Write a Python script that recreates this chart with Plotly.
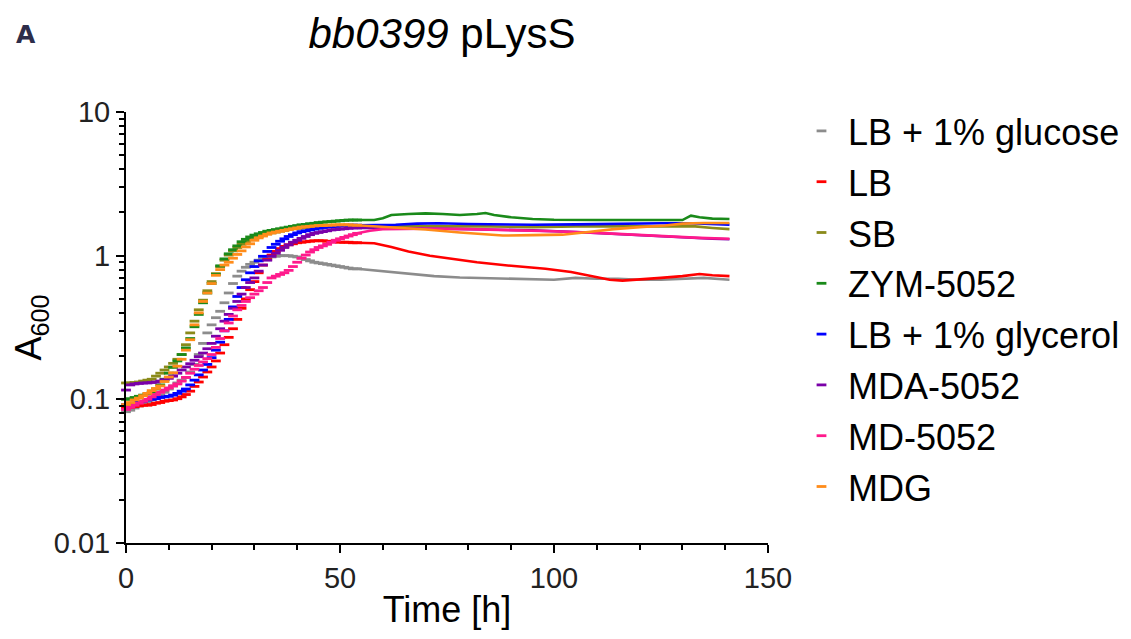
import plotly.graph_objects as go

# ---------------- data ----------------
series_names = ["LB + 1% glucose", "LB", "SB", "ZYM-5052", "LB + 1% glycerol",
                "MDA-5052", "MD-5052", "MDG"]
colors = ["#8c8c8c", "#ff0000", "#8a8a1a", "#1a8a1a", "#0000ff",
          "#7a00a8", "#ff1a8c", "#ff8c1a"]

# dense measurement phase, one reading per hour (0 ... 54 h)
t_dense = list(range(0, 55))

glucose_dense = [0.082, 0.084, 0.087, 0.090, 0.093, 0.096, 0.099, 0.103, 0.107, 0.112,
                 0.118, 0.124, 0.130, 0.136, 0.142, 0.155, 0.175, 0.205, 0.245, 0.290,
                 0.330, 0.370, 0.410, 0.470, 0.550, 0.640, 0.720, 0.780, 0.830, 0.870,
                 0.900, 0.930, 0.950, 0.970, 0.980, 0.990, 1.000, 1.000, 1.000, 0.990,
                 0.980, 0.960, 0.940, 0.920, 0.900, 0.890, 0.880, 0.870, 0.860, 0.850,
                 0.840, 0.830, 0.820, 0.810, 0.810]
lb_dense = [0.087, 0.088, 0.089, 0.090, 0.091, 0.091, 0.092, 0.094, 0.095, 0.097,
            0.098, 0.099, 0.101, 0.104, 0.108, 0.114, 0.123, 0.132, 0.143, 0.155,
            0.168, 0.185, 0.210, 0.240, 0.270, 0.310, 0.360, 0.430, 0.500, 0.580,
            0.660, 0.760, 0.860, 0.940, 1.010, 1.070, 1.120, 1.160, 1.190, 1.210,
            1.230, 1.240, 1.250, 1.260, 1.270, 1.270, 1.270, 1.260, 1.250, 1.250,
            1.240, 1.240, 1.240, 1.230, 1.230]
sb_dense = [0.130, 0.130, 0.131, 0.132, 0.134, 0.136, 0.138, 0.145, 0.152, 0.160,
            0.168, 0.178, 0.190, 0.205, 0.240, 0.290, 0.350, 0.420, 0.490, 0.570,
            0.660, 0.750, 0.840, 0.930, 1.010, 1.080, 1.140, 1.200, 1.250, 1.290,
            1.330, 1.360, 1.390, 1.420, 1.440, 1.460, 1.480, 1.500, 1.520, 1.540,
            1.550, 1.560, 1.570, 1.580, 1.590, 1.600, 1.600, 1.610, 1.610, 1.610,
            1.620, 1.620, 1.620, 1.620, 1.620]
zym_dense = [0.100, 0.101, 0.103, 0.105, 0.107, 0.109, 0.112, 0.118, 0.126, 0.138,
             0.152, 0.167, 0.185, 0.205, 0.228, 0.265, 0.320, 0.390, 0.470, 0.550,
             0.640, 0.740, 0.850, 0.950, 1.030, 1.100, 1.170, 1.250, 1.300, 1.350,
             1.390, 1.420, 1.450, 1.480, 1.500, 1.520, 1.540, 1.560, 1.580, 1.600,
             1.620, 1.640, 1.650, 1.670, 1.680, 1.700, 1.710, 1.720, 1.730, 1.740,
             1.750, 1.760, 1.770, 1.770, 1.770]
glycerol_dense = [0.092, 0.093, 0.094, 0.096, 0.097, 0.099, 0.100, 0.101, 0.103, 0.104,
                  0.105, 0.107, 0.110, 0.114, 0.118, 0.126, 0.136, 0.148, 0.160, 0.175,
                  0.195, 0.220, 0.250, 0.300, 0.360, 0.440, 0.520, 0.600, 0.680, 0.760,
                  0.840, 0.920, 0.990, 1.070, 1.140, 1.200, 1.260, 1.310, 1.360, 1.400,
                  1.440, 1.470, 1.490, 1.510, 1.530, 1.550, 1.570, 1.580, 1.590, 1.600,
                  1.610, 1.620, 1.630, 1.630, 1.630]
mda_dense = [0.116, 0.126, 0.128, 0.129, 0.130, 0.130, 0.131, 0.132, 0.134, 0.137,
             0.140, 0.145, 0.152, 0.160, 0.168, 0.177, 0.187, 0.198, 0.210, 0.225,
             0.245, 0.275, 0.310, 0.350, 0.390, 0.430, 0.480, 0.540, 0.600, 0.650,
             0.700, 0.780, 0.860, 0.930, 0.990, 1.040, 1.090, 1.140, 1.190, 1.240,
             1.280, 1.320, 1.360, 1.400, 1.430, 1.450, 1.470, 1.490, 1.510, 1.520,
             1.530, 1.540, 1.550, 1.560, 1.560]
md_dense = [0.085, 0.088, 0.091, 0.094, 0.097, 0.100, 0.104, 0.108, 0.112, 0.116,
            0.120, 0.124, 0.128, 0.134, 0.142, 0.152, 0.162, 0.172, 0.182, 0.192,
            0.205, 0.230, 0.265, 0.300, 0.340, 0.380, 0.420, 0.450, 0.480, 0.510,
            0.540, 0.570, 0.600, 0.650, 0.700, 0.720, 0.740, 0.760, 0.790, 0.840,
            0.900, 0.960, 1.010, 1.060, 1.100, 1.140, 1.170, 1.200, 1.240, 1.280,
            1.310, 1.340, 1.370, 1.400, 1.430]
mdg_dense = [0.092, 0.095, 0.099, 0.102, 0.106, 0.110, 0.115, 0.119, 0.124, 0.133,
             0.143, 0.153, 0.170, 0.190, 0.220, 0.260, 0.330, 0.400, 0.480, 0.550,
             0.640, 0.730, 0.800, 0.860, 0.900, 0.960, 1.020, 1.080, 1.150, 1.210,
             1.280, 1.330, 1.370, 1.410, 1.440, 1.460, 1.480, 1.500, 1.520, 1.540,
             1.560, 1.580, 1.590, 1.600, 1.610, 1.620, 1.620, 1.630, 1.630, 1.640,
             1.640, 1.640, 1.640, 1.630, 1.630]

# stationary phase (54 ... 141 h), read at irregular times
glucose_t = [54, 58, 63, 68, 72, 78, 84, 90, 95, 100, 105, 110, 115, 120, 125, 130, 135, 141]
glucose_v = [0.81, 0.79, 0.765, 0.74, 0.72, 0.705, 0.70, 0.69, 0.69, 0.68, 0.70, 0.69,
             0.69, 0.68, 0.68, 0.69, 0.70, 0.68]
lb_t = [54, 58, 62, 66, 71, 76, 82, 90, 98, 104, 110, 113, 116, 120, 125, 130, 134, 137, 141]
lb_v = [1.23, 1.22, 1.15, 1.07, 1.00, 0.95, 0.90, 0.85, 0.81, 0.77, 0.705, 0.68, 0.67,
        0.68, 0.70, 0.72, 0.745, 0.73, 0.72]
sb_t = [54, 58, 65, 75, 85, 95, 105, 115, 125, 133, 137, 141]
sb_v = [1.62, 1.62, 1.61, 1.60, 1.60, 1.58, 1.60, 1.60, 1.60, 1.60, 1.56, 1.53]
zym_t = [54, 58, 60, 62, 66, 70, 74, 78, 82, 84, 86, 90, 95, 100, 110, 120, 130, 132, 134, 137, 141]
zym_v = [1.77, 1.77, 1.82, 1.92, 1.95, 1.97, 1.95, 1.92, 1.95, 1.98, 1.92, 1.85, 1.80,
         1.78, 1.77, 1.77, 1.77, 1.90, 1.85, 1.81, 1.80]
glycerol_t = [54, 58, 63, 68, 73, 80, 88, 95, 105, 115, 125, 132, 137, 141]
glycerol_v = [1.63, 1.63, 1.64, 1.67, 1.68, 1.66, 1.65, 1.64, 1.65, 1.67, 1.68, 1.68, 1.66, 1.64]
mda_t = [54, 58, 65, 75, 85, 95, 105, 115, 125, 133, 137, 141]
mda_v = [1.56, 1.56, 1.55, 1.54, 1.52, 1.50, 1.46, 1.41, 1.37, 1.32, 1.31, 1.30]
md_t = [54, 57, 60, 70, 80, 90, 100, 110, 118, 126, 134, 141]
md_v = [1.43, 1.49, 1.53, 1.54, 1.53, 1.51, 1.48, 1.44, 1.40, 1.36, 1.33, 1.31]
mdg_t = [54, 58, 63, 70, 78, 84, 88, 95, 102, 108, 114, 120, 126, 130, 135, 141]
mdg_v = [1.63, 1.60, 1.58, 1.52, 1.45, 1.40, 1.38, 1.39, 1.40, 1.46, 1.53, 1.58, 1.62,
         1.67, 1.69, 1.69]

dense_values = [glucose_dense, lb_dense, sb_dense, zym_dense, glycerol_dense,
                mda_dense, md_dense, mdg_dense]
late_times = [glucose_t, lb_t, sb_t, zym_t, glycerol_t, mda_t, md_t, mdg_t]
late_values = [glucose_v, lb_v, sb_v, zym_v, glycerol_v, mda_v, md_v, mdg_v]

x_major = [0, 50, 100, 150]
y_major = [0.01, 0.1, 1, 10]
y_major_text = ["0.01", "0.1", "1", "10"]

# ---------------- figure ----------------
fig = go.Figure()
for name, col, yd, lt, lv in zip(series_names, colors, dense_values, late_times, late_values):
    fig.add_trace(go.Scatter(
        x=t_dense, y=yd, mode="markers", name=name, legendgroup=name,
        marker=dict(symbol="line-ew", size=7, color=col, line=dict(color=col, width=2.8)),
        cliponaxis=False, showlegend=True))
    fig.add_trace(go.Scatter(
        x=lt, y=lv, mode="lines", name=name, legendgroup=name,
        line=dict(color=col, width=2.6), showlegend=False, cliponaxis=False))

minor_vals = [m * d for d in [0.01, 0.1, 1] for m in range(2, 10)]
sans = "Liberation Sans, Arial, sans-serif"

W, H = 1131, 639
OFFX, OFFY = 8, 8          # the page body adds an 8 px offset
ML, MT = 126 - OFFX, 112 - OFFY
MR, MB = W - 768 + OFFX, H - 543 + OFFY
PW, PH = W - ML - MR, H - MT - MB


def px_to_paper(px, py):
    return (px - OFFX - ML) / PW, 1 - (py - OFFY - MT) / PH


ax, ay = px_to_paper(26, 35)
lx, ly = px_to_paper(795, 101)

fig.update_layout(
    width=W, height=H,
    margin=dict(l=ML, r=MR, t=MT, b=MB, autoexpand=False),
    paper_bgcolor="white", plot_bgcolor="white",
    title=dict(text="<i>bb0399</i> pLysS", x=(442 - OFFX) / W, xref="container",
               xanchor="center", y=1 - (33 - OFFY) / H, yref="container", yanchor="middle",
               font=dict(family=sans, size=42, color="black")),
    showlegend=True,
    legend=dict(x=lx, xanchor="left", y=ly, yanchor="top", maxheight=600,
                font=dict(family=sans, size=36, color="black"),
                tracegroupgap=1, itemwidth=43, bgcolor="rgba(0,0,0,0)"),
    xaxis=dict(range=[0, 150], tickmode="array", tickvals=x_major, automargin=False,
               ticks="outside", ticklen=8, tickwidth=2, tickcolor="black",
               showline=True, linewidth=2, linecolor="black", showgrid=False, zeroline=False,
               minor=dict(tickmode="linear", tick0=0, dtick=10, ticks="outside", ticklen=5,
                          tickwidth=2, tickcolor="black", showgrid=False),
               tickfont=dict(family=sans, size=29, color="#222222"),
               title=dict(text="Time [h]", font=dict(family=sans, size=36, color="black"),
                          standoff=4)),
    yaxis=dict(type="log", range=[-2, 1], tickmode="array", tickvals=y_major,
               ticktext=y_major_text, ticks="outside", ticklen=8, tickwidth=2,
               automargin=False,
               tickcolor="black", showline=True, linewidth=2, linecolor="black",
               showgrid=False, zeroline=False,
               minor=dict(tickmode="array", tickvals=minor_vals, ticks="outside", ticklen=5,
                          tickwidth=2, tickcolor="black", showgrid=False),
               tickfont=dict(family=sans, size=29, color="#222222"),
               title=dict(text="A<sub>600</sub>", font=dict(family=sans, size=36, color="black"),
                          standoff=24)),
    annotations=[dict(text="<b>A</b>", x=ax, y=ay, xref="paper", yref="paper",
                      xanchor="center", yanchor="middle", showarrow=False,
                      font=dict(family="DejaVu Sans, sans-serif", size=25, color="#2d2d4a"))],
)

fig.write_html("out.html")
